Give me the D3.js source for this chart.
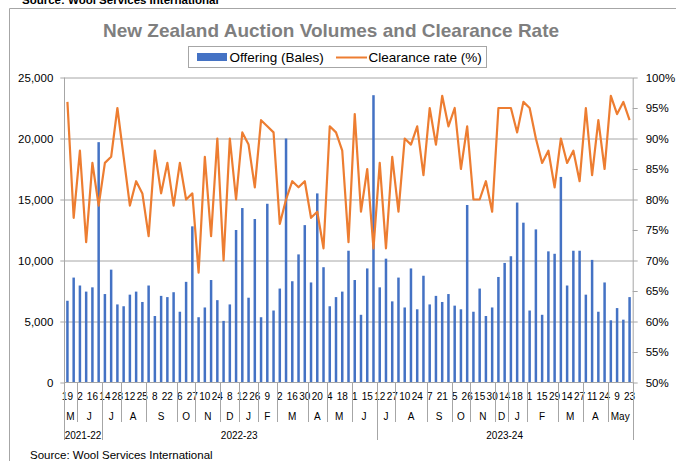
<!DOCTYPE html>
<html>
<head>
<meta charset="utf-8">
<title>NZ Auction Volumes</title>
<script src="https://d3js.org/d3.v7.min.js"></script>
<style>
body { margin: 0; background: #fff; font-family: 'Liberation Sans', Arial, sans-serif; }
svg { display: block; }
.axis text { font-family: 'Liberation Sans', Arial, sans-serif; fill: #000; }
</style>
</head>
<body>
<svg width="676" height="461"></svg>
<script>

// weekly sales, May 2022 - May 2024
var offering = [6700, 8600, 7950, 7450, 7800, 19700, 7250, 9250, 6400, 6250,
	7200, 7450, 6600, 7950, 5450, 7100, 7000, 7400, 5800, 8250,
	12800, 5350, 6150, 8400, 6750, 5050, 6400, 12500, 14300, 6950,
	13400, 5350, 14650, 5900, 7700, 20000, 8300, 10500, 12900, 8200,
	15500, 9450, 6250, 7000, 7450, 10800, 8400, 5550, 9350, 23550,
	7800, 10150, 6650, 8600, 6150, 9350, 6000, 8750, 6400, 7100,
	6600, 7250, 6300, 6000, 14550, 5800, 7700, 5450, 6150, 8650,
	9800, 10350, 14750, 13100, 5900, 12550, 5550, 10750, 10550, 16850,
	7950, 10800, 10800, 7200, 10050, 5800, 8200, 5100, 6100, 5150, 7000];

var clearance = [96, 77, 88, 73, 86, 79, 86, 87, 95, 87,
	79, 83, 81, 74, 88, 81, 86, 79, 86, 80,
	81, 68, 87, 74, 90, 70, 90, 80, 91, 89,
	82, 93, 92, 91, 76, 80, 83, 82, 83, 77,
	78, 72, 92, 91, 88, 73, 94, 78, 85, 72,
	86, 72, 87, 78, 90, 89, 92, 84, 95, 89,
	97, 92, 95, 85, 92, 80, 80, 83, 78, 95,
	95, 95, 91, 96, 95, 90, 86, 88, 82, 90,
	86, 88, 83, 95, 84, 93, 85, 97, 94, 96, 93];

// only every second sale date is labelled on the axis
var dayLabels = ["19","","2","","16","","14","","28","",
	"12","","25","","8","","22","","6","",
	"27","","10","","24","","8","","12","",
	"26","","9","","2","","16","","30","",
	"20","","4","","18","","1","","15","",
	"12","","27","","10","","24","","7","",
	"21","","5","","26","","15","","30","",
	"14","","18","","1","","15","","29","",
	"14","","27","","11","","24","","9","","23"];

var monthLabels = ["M","J","J","A","S","O","N","D","J","F","M","A","M",
	"J","J","A","S","O","N","D","J","F","M","A","May"];
var monthCounts = [2,4,3,4,5,3,4,3,3,3,5,3,4,4,3,5,4,3,4,2,3,5,4,4,4];

var seasonLabels = ["2021-22", "2022-23", "2023-24"];
var seasonCounts = [6, 44, 41];

var leftTicks = [0, 5000, 10000, 15000, 20000, 25000];
var rightTicks = [50, 55, 60, 65, 70, 75, 80, 85, 90, 95, 100];

var svg = d3.select("svg");
var plotLeft = 64.3, plotRight = 632.7, plotTop = 77.5, plotBottom = 382.5;
var lineGrey = "#a6a6a6";

var x = d3.scaleBand()
	.domain(d3.range(offering.length))
	.range([plotLeft, plotRight])
	.paddingInner(0.6)
	.paddingOuter(0.3);
var yL = d3.scaleLinear().domain([0, 25000]).range([plotBottom, plotTop]);
var yR = d3.scaleLinear().domain([50, 100]).range([plotBottom, plotTop]);

// chart frame (cut off at top/right in the original screenshot)
svg.append("path")
	.attr("d", "M9.5,461V8.5H676")
	.attr("fill", "none")
	.attr("stroke", lineGrey);

svg.append("text")
	.attr("x", 22).attr("y", 4)
	.style("font-size", "11.5px").style("font-weight", "bold")
	.text("Source: Wool Services International");

svg.append("text")
	.attr("x", 331).attr("y", 37)
	.attr("text-anchor", "middle")
	.attr("fill", "#7f7f7f")
	.style("font-size", "19px").style("font-weight", "bold")
	.text("New Zealand Auction Volumes and Clearance Rate");

// legend
var lg = svg.append("g");
lg.append("rect").attr("x", 188.5).attr("y", 46.5).attr("width", 298).attr("height", 21)
	.attr("fill", "#fff").attr("stroke", lineGrey);
lg.append("rect").attr("x", 197).attr("y", 53).attr("width", 30).attr("height", 8).attr("fill", "#4472C4");
lg.append("text").attr("x", 229.5).attr("y", 62).style("font-size", "13.5px").text("Offering (Bales)");
lg.append("line").attr("x1", 336).attr("x2", 367).attr("y1", 57.5).attr("y2", 57.5)
	.attr("stroke", "#ED7D31").attr("stroke-width", 2);
lg.append("text").attr("x", 368.5).attr("y", 62).style("font-size", "13.5px").text("Clearance rate (%)");

// gridlines
svg.append("g")
	.attr("transform", "translate(" + plotLeft + ",0)")
	.call(d3.axisLeft(yL).tickValues(leftTicks.slice(1)).tickSize(-(plotRight - plotLeft)).tickFormat(""))
	.call(function(g) { g.select(".domain").remove(); })
	.selectAll("line").attr("stroke", lineGrey);

// left axis
var ax = svg.append("g")
	.attr("class", "axis")
	.attr("transform", "translate(" + plotLeft + ",0)")
	.call(d3.axisLeft(yL).tickValues(leftTicks).tickSize(4).tickSizeOuter(0).tickPadding(7).tickFormat(d3.format(",")));
ax.select(".domain").remove();
ax.selectAll("line").attr("stroke", lineGrey);
ax.selectAll("text").style("font-size", "11.5px");

// right axis
var ar = svg.append("g")
	.attr("class", "axis")
	.attr("transform", "translate(" + plotRight + ",0)")
	.call(d3.axisRight(yR).tickValues(rightTicks).tickSize(5).tickSizeOuter(0).tickPadding(8).tickFormat(function(d) { return d + "%"; }));
ar.select(".domain").attr("stroke", lineGrey);
ar.selectAll("line").attr("stroke", lineGrey);
ar.selectAll("text").style("font-size", "11.5px");

// bars
svg.selectAll("rect.bar")
	.data(offering)
	.join("rect")
	.attr("class", "bar")
	.attr("x", function(d, i) { return x(i); })
	.attr("width", x.bandwidth())
	.attr("y", function(d) { return yL(d); })
	.attr("height", function(d) { return plotBottom - yL(d); })
	.attr("fill", "#4472C4");

// clearance line
var line = d3.line()
	.x(function(d, i) { return x(i) + x.bandwidth() / 2; })
	.y(function(d) { return yR(d); });

svg.append("path")
	.datum(clearance)
	.attr("d", line)
	.attr("fill", "none")
	.attr("stroke", "#ED7D31")
	.attr("stroke-width", 2.2)
	.attr("stroke-linejoin", "round");

// category axis, three levels
var cat = svg.append("g").attr("class", "axis");
var edge = function(k) { return plotLeft + k * x.step(); };

cat.append("line")
	.attr("x1", plotLeft).attr("x2", plotRight)
	.attr("y1", plotBottom).attr("y2", plotBottom)
	.attr("stroke", lineGrey);

cat.selectAll("text.day")
	.data(dayLabels)
	.join("text")
	.attr("class", "day")
	.attr("x", function(d, i) { return x(i) + x.bandwidth() / 2; })
	.attr("y", 400)
	.attr("text-anchor", "middle")
	.style("font-size", "10px")
	.text(function(d) { return d; });

var seasonEdges = [0];
seasonCounts.forEach(function(c) { seasonEdges.push(seasonEdges[seasonEdges.length - 1] + c); });

var monthStart = [0];
monthCounts.forEach(function(c) { monthStart.push(monthStart[monthStart.length - 1] + c); });

cat.selectAll("line.month")
	.data(monthStart)
	.join("line")
	.attr("class", "month")
	.attr("x1", function(k) { return Math.round(edge(k)) + 0.5; })
	.attr("x2", function(k) { return Math.round(edge(k)) + 0.5; })
	.attr("y1", plotTop)
	.attr("y1", function(k) { return (k === 0) ? plotTop : plotBottom; })
	.attr("y2", function(k) { return seasonEdges.indexOf(k) >= 0 ? 440 : 422; })
	.attr("stroke", lineGrey);

cat.selectAll("text.month")
	.data(monthLabels)
	.join("text")
	.attr("class", "month")
	.attr("x", function(d, i) { return (edge(monthStart[i]) + edge(monthStart[i + 1])) / 2; })
	.attr("y", 420)
	.attr("text-anchor", "middle")
	.style("font-size", "10px")
	.text(function(d) { return d; });

cat.selectAll("text.season")
	.data(seasonLabels)
	.join("text")
	.attr("class", "season")
	.attr("x", function(d, i) { return (edge(seasonEdges[i]) + edge(seasonEdges[i + 1])) / 2; })
	.attr("y", 438.5)
	.attr("text-anchor", "middle")
	.style("font-size", "10px")
	.text(function(d) { return d; });

svg.append("text")
	.attr("x", 30).attr("y", 459)
	.style("font-size", "11.5px")
	.text("Source: Wool Services International");

</script>
</body>
</html>
